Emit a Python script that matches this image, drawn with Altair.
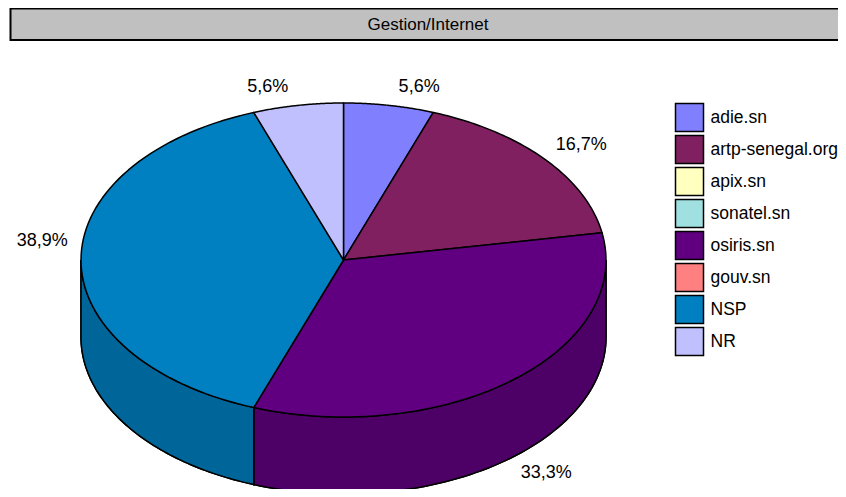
import altair as alt
import pandas as pd

# ---- data ----
categories = ["adie.sn", "artp-senegal.org", "apix.sn", "sonatel.sn",
              "osiris.sn", "gouv.sn", "NSP", "NR"]
counts = [1, 3, 0, 0, 6, 0, 7, 1]
colors = ["#8080ff", "#802060", "#ffffc0", "#a0e0e0",
          "#600080", "#ff8080", "#0080c0", "#c0c0ff"]
title_text = "Gestion/Internet"

# ---- layout (chart pixel units; page pixel = chart pixel + 8) ----
W, H = 830, 481
CX, CY = 335.5, 252.0
RX, RY = 262.5, 157.0
DEPTH = 77.0
N = 72
FONT = "Liberation Sans"

df = pd.DataFrame({"cat": categories, "count": counts,
                   "idx": list(range(len(categories)))})

xs = alt.Scale(domain=[0, W], nice=False, zero=False)
ys = alt.Scale(domain=[0, H], nice=False, zero=False, reverse=True)
fill_scale = alt.Scale(domain=categories, range=colors)
legend = alt.Legend(
    title=None, orient="none", legendX=666.5, legendY=94.5,
    symbolType="square", symbolSize=784, symbolStrokeColor="black",
    symbolStrokeWidth=1.5, symbolOpacity=1, labelFont=FONT,
    labelFontSize=17.5, labelColor="black", labelOffset=6,
    rowPadding=-3.2, padding=0, labelLimit=300,
)

base = (
    alt.Chart(df)
    .transform_joinaggregate(total="sum(count)")
    .transform_window(cum="sum(count)", sort=[alt.SortField("idx")], frame=[None, 0])
    .transform_filter("datum.count > 0")
    .transform_calculate(
        a1="2*PI*(datum.cum - datum.count)/datum.total",
        a2="2*PI*datum.cum/datum.total",
    )
)

# ---- side (front) faces ----
side_data = (
    base.transform_calculate(s="max(datum.a1, PI/2)", e="min(datum.a2, 3*PI/2)")
    .transform_filter("datum.e > datum.s")
    .transform_calculate(seq=f"sequence(0, {2*N+3})")
    .transform_flatten(["seq"], as_=["k"])
    .transform_calculate(
        t=f"datum.k <= {N} ? datum.k/{N} : (datum.k <= {2*N+1} ? ({2*N+1} - datum.k)/{N} : 0)",
        bot=f"(datum.k > {N} && datum.k <= {2*N+1}) ? 1 : 0",
    )
    .transform_calculate(ang="datum.s + (datum.e - datum.s)*datum.t")
    .transform_calculate(
        px=f"{CX} + {RX}*sin(datum.ang)",
        py=f"{CY} - {RY}*cos(datum.ang) + datum.bot*{DEPTH}",
    )
)

enc_common = dict(
    x=alt.X("px:Q", scale=xs, axis=None),
    y=alt.Y("py:Q", scale=ys, axis=None),
    order=alt.Order("k:Q"),
    detail="cat:N",
)

side_dark = side_data.mark_line(fill="black", stroke="black", strokeWidth=1.5).encode(**enc_common)
side_col = side_data.mark_line(stroke="black", strokeWidth=1.5, fillOpacity=0.8).encode(
    fill=alt.Fill("cat:N", scale=fill_scale, legend=legend), **enc_common
)

# ---- top faces ----
top = (
    base.transform_calculate(seq=f"sequence(0, {N+3})")
    .transform_flatten(["seq"], as_=["k"])
    .transform_calculate(
        ang=f"datum.a1 + (datum.a2 - datum.a1)*(clamp(datum.k, 1, {N+1}) - 1)/{N}",
        ctr=f"(datum.k == 0 || datum.k == {N+2}) ? 1 : 0",
    )
    .transform_calculate(
        px=f"datum.ctr ? {CX} : {CX} + {RX}*sin(datum.ang)",
        py=f"datum.ctr ? {CY} : {CY} - {RY}*cos(datum.ang)",
    )
    .mark_line(stroke="black", strokeWidth=1.5, strokeJoin="round")
    .encode(fill=alt.Fill("cat:N", scale=fill_scale, legend=legend), **enc_common)
)

# ---- percentage labels ----
lab = (
    base.transform_calculate(m="(datum.a1 + datum.a2)/2")
    .transform_calculate(
        lx=f"{CX} + (1.05 + 0.18*pow(max(0, cos(datum.m)), 8))*{RX}*sin(datum.m)",
        ly=f"{CY} - 1.08*{RY}*cos(datum.m) + (cos(datum.m) < -0.01 ? {DEPTH} : 0)"
           f" - (cos(datum.m) > 0.01 ? 6.5 : (cos(datum.m) < -0.01 ? -6.5 : 19))",
        txt="replace(format(100*datum.count/datum.total, '.1f'), '.', ',') + '%'",
    )
)
lab_enc = dict(x=alt.X("lx:Q", scale=xs, axis=None),
               y=alt.Y("ly:Q", scale=ys, axis=None),
               text="txt:N")
lab_r = lab.transform_filter("sin(datum.m) >= 0").mark_text(
    align="left", baseline="middle", font=FONT, fontSize=18, color="black").encode(**lab_enc)
lab_l = lab.transform_filter("sin(datum.m) < 0").mark_text(
    align="right", baseline="middle", font=FONT, fontSize=18, color="black").encode(**lab_enc)

# ---- title box ----
one = alt.Data(values=[{"t": title_text}])
tbox = alt.Chart(one).mark_rect(fill="#c0c0c0", stroke="black", strokeWidth=2).encode(
    x=alt.value(2.5), x2=alt.value(900), y=alt.value(0.5), y2=alt.value(32))
ttext = alt.Chart(one).mark_text(font=FONT, fontSize=17, color="black",
                                 align="center", baseline="middle").encode(
    x=alt.value(420), y=alt.value(16.5), text="t:N")

chart = (
    alt.layer(tbox, ttext, side_dark, side_col, top, lab_r, lab_l)
    .properties(width=W, height=H, padding=0,
                autosize=alt.AutoSizeParams(type="none"), background="white")
    .configure_view(stroke=None)
)

chart.save("out.html", embed_options={"renderer": "svg", "actions": False})
